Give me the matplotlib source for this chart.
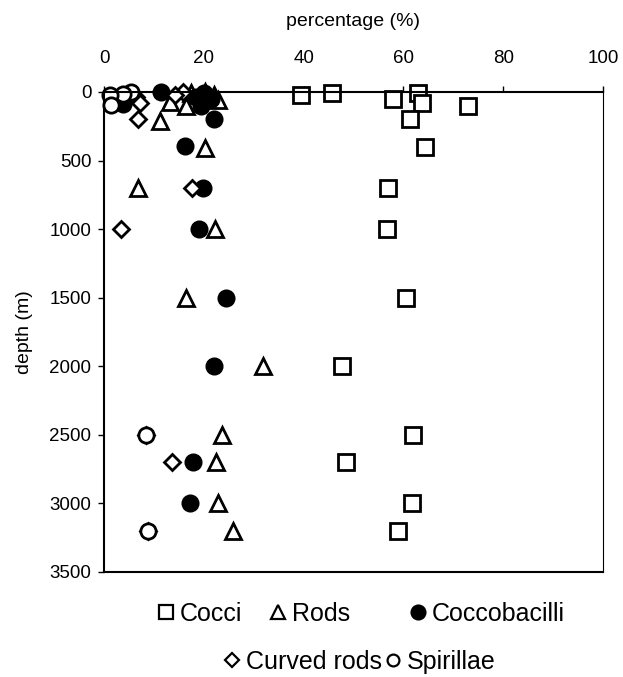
import matplotlib
matplotlib.use("Agg")
import matplotlib.pyplot as plt
from matplotlib.lines import Line2D

plt.rcParams['font.family'] = ['Liberation Sans', 'DejaVu Sans']

# ---- data (percentage, depth in m) ----
cocci_pct = [45.7, 63.0, 39.4, 58.0, 63.7, 73.0, 61.3, 64.3, 57.0, 56.7, 60.5, 47.6, 62.0, 48.4, 61.7, 59.0]
cocci_depth = [5, 5, 20, 50, 80, 100, 200, 400, 700, 1000, 1500, 2000, 2500, 2700, 3000, 3200]

rods_pct = [20.2, 17.5, 22.0, 22.9, 13.2, 16.5, 11.2, 20.2, 6.9, 22.3, 16.4, 31.8, 23.7, 22.4, 22.8, 25.8]
rods_depth = [0, 5, 20, 55, 70, 105, 210, 410, 700, 1000, 1500, 2000, 2500, 2700, 3000, 3200]

cocco_pct = [11.5, 20.0, 18.5, 21.5, 3.9, 19.5, 22.0, 16.2, 19.9, 19.0, 24.4, 22.0, 17.9, 17.2]
cocco_depth = [0, 10, 35, 50, 85, 100, 200, 395, 700, 1000, 1500, 2000, 2700, 3000]

curved_pct = [15.9, 14.2, 6.5, 7.2, 6.9, 17.6, 3.4, 8.4, 13.6, 8.9]
curved_depth = [0, 22, 35, 82, 200, 700, 1000, 2500, 2700, 3200]

spir_pct = [5.5, 3.9, 1.2, 1.5, 8.4, 8.9]
spir_depth = [0, 15, 22, 95, 2500, 3200]

series_names = ['Cocci', 'Rods', 'Coccobacilli', 'Curved rods', 'Spirillae']
x_ticks = [0, 20, 40, 60, 80, 100]
y_ticks = [0, 500, 1000, 1500, 2000, 2500, 3000, 3500]

W, H = 623, 677
fig = plt.figure(figsize=(W / 100, H / 100), dpi=100)
ax = fig.add_axes([104 / W, 1 - 572 / H, 499 / W, 480 / H])

mew = 2.0
ms = 11
ax.plot(cocci_pct, cocci_depth, ls='none', marker='s', ms=ms, mfc='white', mec='black', mew=mew, clip_on=False)
ax.plot(rods_pct, rods_depth, ls='none', marker='^', ms=ms, mfc='white', mec='black', mew=mew, clip_on=False)
ax.plot(cocco_pct, cocco_depth, ls='none', marker='o', ms=ms, mfc='black', mec='black', mew=mew, clip_on=False)
ax.plot(curved_pct, curved_depth, ls='none', marker='D', ms=8.5, mfc='white', mec='black', mew=mew, clip_on=False)
ax.plot(spir_pct, spir_depth, ls='none', marker='o', ms=ms, mfc='white', mec='black', mew=mew, clip_on=False)

ax.set_xlim(0, 100)
ax.set_ylim(3500, 0)
ax.set_xticks(x_ticks)
ax.set_yticks(y_ticks)
ax.xaxis.tick_top()
ax.xaxis.set_label_position('top')
ax.tick_params(axis='both', direction='out', length=4, width=1, labelsize=13.5, colors='black')
ax.tick_params(axis='x', pad=14)
ax.tick_params(axis='y', pad=5)
ax.set_xlabel('percentage (%)', fontsize=14, labelpad=17)
ax.set_ylabel('depth (m)', fontsize=14, labelpad=12)
for s in ax.spines.values():
    s.set_linewidth(1.5)
    s.set_color('black')
ax.spines['right'].set_linewidth(0.8)

def h(marker, fc, size):
    return Line2D([], [], ls='none', marker=marker, ms=size, mfc=fc, mec='black', mew=1.6)

handles = [h('s', 'white', 9.5), h('^', 'white', 9.5), h('o', 'black', 10),
           h('D', 'white', 7.5), h('o', 'white', 8.5)]
# legend entry placement (left edge x px, centre y px) in figure pixels
leg_pos = [(157, 614), (269, 614), (409, 614), (223, 662), (384, 662)]
for hd, name, (lx, ly) in zip(handles, series_names, leg_pos):
    fig.legend([hd], [name], loc='center left', bbox_to_anchor=(lx / W, 1 - ly / H),
               frameon=False, fontsize=18, handlelength=0.7, handletextpad=0.2,
               borderpad=0, borderaxespad=0)

fig.savefig('out.png', dpi=100)
